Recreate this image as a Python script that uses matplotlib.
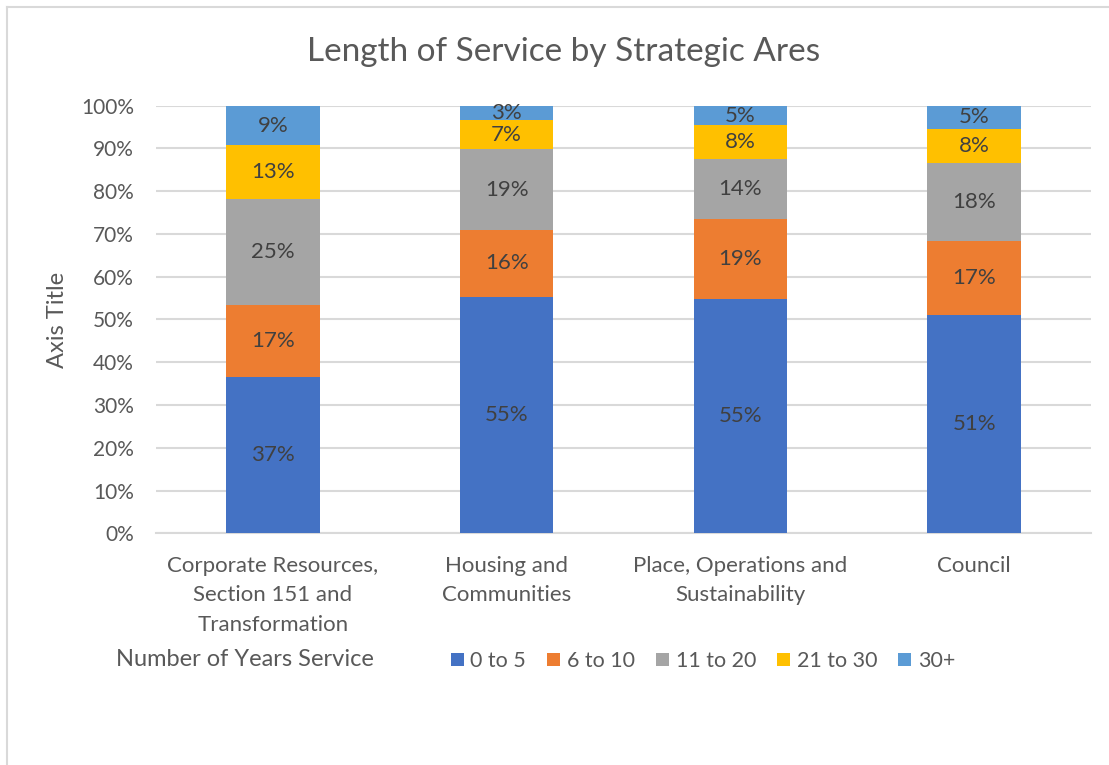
import matplotlib
matplotlib.use("Agg")
import matplotlib.pyplot as plt
from matplotlib.patches import Patch
from matplotlib.lines import Line2D
import numpy as np

categories = ["Corporate Resources,\nSection 151 and\nTransformation",
              "Housing and\nCommunities",
              "Place, Operations and\nSustainability",
              "Council"]
series_names = ["0 to 5", "6 to 10", "11 to 20", "21 to 30", "30+"]
s_0_5 = [36.6, 55.3, 54.7, 51.0]
s_6_10 = [16.9, 15.6, 18.8, 17.4]
s_11_20 = [24.6, 18.9, 14.1, 18.1]
s_21_30 = [12.6, 6.8, 7.8, 8.1]
s_30p = [9.3, 3.4, 4.6, 5.4]
yticks = [0, 10, 20, 30, 40, 50, 60, 70, 80, 90, 100]
ytick_labels = ["0%", "10%", "20%", "30%", "40%", "50%", "60%", "70%", "80%", "90%", "100%"]

colors = ["#4472C4", "#ED7D31", "#A5A5A5", "#FFC000", "#5B9BD5"]
txt = "#595959"
lbl = "#404040"
plt.rcParams['font.family'] = ['Lato', 'DejaVu Sans']

fig = plt.figure(figsize=(11.09, 7.65), dpi=100)
ax = fig.add_axes([156/1109, 1-533.3/765, (1091-156)/1109, (533.3-105.7)/765])

x = np.arange(len(categories))
bottom = np.zeros(len(categories))
series = [s_0_5, s_6_10, s_11_20, s_21_30, s_30p]
for vals, c, name in zip(series, colors, series_names):
    vals = np.array(vals)
    ax.bar(x, vals, 0.4, bottom=bottom, color=c, label=name, zorder=3)
    for xi, b, v in zip(x, bottom, vals):
        ax.text(xi, b + v/2, f"{int(v + 0.5)}%", ha="center", va="center",
                fontsize=16, color=lbl, zorder=4)
    bottom += vals

ax.set_xlim(-0.5, len(categories) - 0.5)
ax.set_ylim(0, 100)
ax.set_yticks(yticks)
ax.set_yticklabels(ytick_labels)
ax.yaxis.grid(True, color="#D9D9D9", linewidth=1.5, zorder=0)
ax.set_axisbelow(True)
for s in ["top", "right", "left"]:
    ax.spines[s].set_visible(False)
ax.spines["bottom"].set_color("#D9D9D9")
ax.spines["bottom"].set_linewidth(1.5)
ax.tick_params(axis="both", length=0, colors=txt, labelsize=15)
ax.tick_params(axis="y", pad=16)
ax.tick_params(axis="x", pad=16, labelsize=16)
ax.set_xticks(x)
ax.set_xticklabels(categories, linespacing=1.62)

fig.text(57/1109, 1-320/765, "Axis Title", rotation=90, ha="center", va="center",
         fontsize=17, color=txt)
fig.text(564/1109, 1-52/765, "Length of Service by Strategic Ares", ha="center",
         va="center", fontsize=24, color=txt)
fig.text(245/1109, 1-659/765, "Number of Years Service", ha="center", va="center",
         fontsize=17, color=txt)

handles = [Patch(facecolor=c, edgecolor="none") for c in colors]
leg = fig.legend(handles, series_names, loc="center left",
                 bbox_to_anchor=(451/1109, 1-661/765), ncol=5, frameon=False,
                 fontsize=15.5, handlelength=0.6, handleheight=0.6,
                 handletextpad=0.3, columnspacing=0.99, borderaxespad=0, borderpad=0)
for t in leg.get_texts():
    t.set_color(txt)

# chart border (left and top visible)
fig.add_artist(Line2D([7/1109, 7/1109], [0, 1-7/765], transform=fig.transFigure,
                      color="#D9D9D9", linewidth=1.5))
fig.add_artist(Line2D([7/1109, 1], [1-7/765, 1-7/765], transform=fig.transFigure,
                      color="#D9D9D9", linewidth=1.5))

fig.savefig("out.png", dpi=100, facecolor="white")
